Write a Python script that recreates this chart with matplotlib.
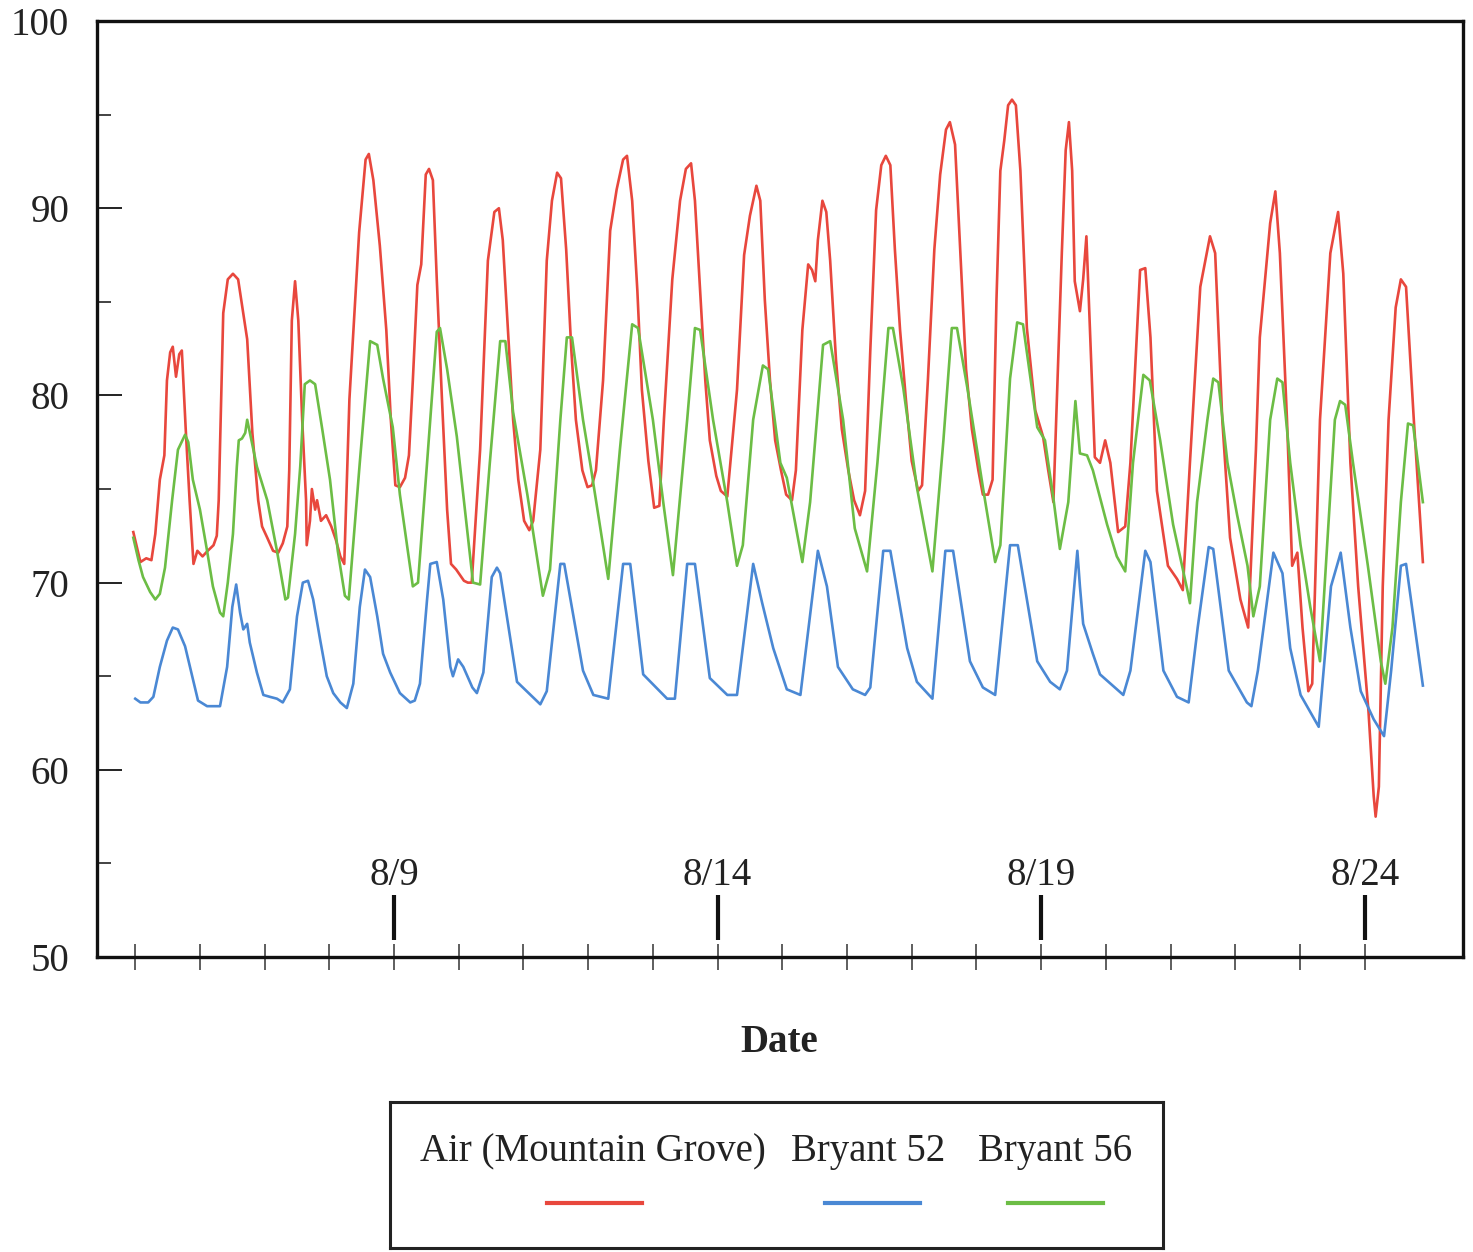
import matplotlib
matplotlib.use("Agg")
import matplotlib.pyplot as plt
import matplotlib.transforms as mtransforms
from matplotlib.lines import Line2D
from matplotlib.ticker import MultipleLocator

plt.rcParams['font.family'] = ['Liberation Serif', 'DejaVu Serif']

# Time axis: day of August (x.5 = noon), temperatures in deg F
air_day = [4.97, 5.08, 5.17, 5.25, 5.31, 5.38, 5.45, 5.49, 5.54, 5.58, 5.63, 5.68, 5.72, 5.78, 5.84,
           5.90, 5.96, 6.04, 6.12, 6.21, 6.26, 6.29, 6.36, 6.43, 6.51, 6.59, 6.73, 6.81, 6.90, 6.96,
           7.04, 7.13, 7.21, 7.28, 7.35, 7.38, 7.42, 7.47, 7.52, 7.58, 7.64, 7.65, 7.70, 7.73, 7.78,
           7.81, 7.87, 7.95, 8.03, 8.10, 8.17, 8.23, 8.31, 8.46, 8.56, 8.61, 8.68, 8.78, 8.88, 8.95,
           9.02, 9.09, 9.17, 9.23, 9.29, 9.36, 9.42, 9.49, 9.54, 9.60, 9.66, 9.74, 9.82, 9.88, 9.96,
           10.02, 10.08, 10.14, 10.20, 10.33, 10.45, 10.55, 10.62, 10.68, 10.76, 10.84, 10.92, 11.01,
           11.09, 11.15, 11.26, 11.36, 11.44, 11.52, 11.58, 11.66, 11.74, 11.81, 11.91, 11.99, 12.06,
           12.12, 12.23, 12.34, 12.44, 12.54, 12.60, 12.68, 12.76, 12.83, 12.93, 13.02, 13.10, 13.17,
           13.30, 13.42, 13.51, 13.59, 13.65, 13.73, 13.81, 13.88, 13.98, 14.05, 14.15, 14.30, 14.41,
           14.50, 14.60, 14.66, 14.73, 14.81, 14.89, 14.98, 15.06, 15.15, 15.21, 15.31, 15.40, 15.46,
           15.51, 15.55, 15.62, 15.68, 15.74, 15.83, 15.92, 16.02, 16.11, 16.20, 16.28, 16.36, 16.45,
           16.53, 16.60, 16.67, 16.74, 16.82, 16.91, 17.00, 17.10, 17.16, 17.25, 17.35, 17.44, 17.53,
           17.59, 17.67, 17.75, 17.84, 17.93, 18.03, 18.10, 18.18, 18.25, 18.31, 18.37, 18.43, 18.49,
           18.55, 18.61, 18.68, 18.78, 18.91, 19.03, 19.11, 19.19, 19.27, 19.32, 19.38, 19.43, 19.48,
           19.52, 19.60, 19.65, 19.70, 19.76, 19.83, 19.91, 19.99, 20.07, 20.19, 20.30, 20.38, 20.53,
           20.61, 20.69, 20.79, 20.96, 21.10, 21.19, 21.30, 21.46, 21.61, 21.69, 21.80, 21.92, 22.08,
           22.20, 22.32, 22.38, 22.54, 22.62, 22.69, 22.80, 22.88, 22.96, 23.04, 23.13, 23.19, 23.31,
           23.47, 23.59, 23.67, 23.78, 23.90, 24.06, 24.14, 24.17, 24.22, 24.28, 24.37, 24.48, 24.56,
           24.64, 24.76, 24.90]
air_temp = [72.7, 71.1, 71.3, 71.2, 72.6, 75.5, 76.8, 80.8, 82.3, 82.6, 81.0, 82.2, 82.4, 78.2, 74.4,
            71.0, 71.7, 71.4, 71.7, 72.0, 72.5, 74.4, 84.4, 86.2, 86.5, 86.2, 83.0, 78.0, 74.4, 73.0,
            72.4, 71.7, 71.6, 72.1, 73.0, 76.0, 84.0, 86.1, 84.0, 78.7, 74.4, 72.0, 73.3, 75.0, 73.9,
            74.4, 73.3, 73.6, 73.0, 72.3, 71.4, 71.0, 79.8, 88.7, 92.6, 92.9, 91.5, 88.0, 83.5, 78.7,
            75.2, 75.1, 75.6, 76.8, 80.8, 85.9, 87.0, 91.8, 92.1, 91.5, 86.2, 79.8, 73.9, 71.0, 70.7,
            70.4, 70.1, 70.0, 70.0, 77.1, 87.2, 89.8, 90.0, 88.3, 83.5, 78.7, 75.5, 73.3,
            72.8, 73.3, 77.1, 87.2, 90.4, 91.9, 91.6, 87.8, 82.4, 78.7, 76.0, 75.1, 75.2,
            76.0, 80.8, 88.8, 91.0, 92.6, 92.8, 90.4, 85.6, 80.3, 76.5, 74.0, 74.1, 78.7,
            86.2, 90.4, 92.1, 92.4, 90.4, 85.6, 80.8, 77.6, 75.7, 74.9, 74.6, 80.3, 87.5,
            89.6, 91.2, 90.4, 85.1, 80.8, 77.6, 76.0, 74.7, 74.4, 76.0, 83.5, 87.0, 86.7,
            86.1, 88.3, 90.4, 89.8, 87.2, 81.9, 78.2, 76.0, 74.4, 73.6, 74.9, 82.4, 89.9,
            92.3, 92.8, 92.3, 87.8, 83.5, 79.8, 76.5, 74.9, 75.2, 80.8, 87.8, 91.8, 94.2,
            94.6, 93.4, 87.8, 81.4, 78.2, 76.0, 74.7, 74.7, 75.5, 85.1, 92.0, 93.6, 95.5,
            95.8, 95.5, 92.0, 83.6, 79.2, 77.8, 76.0, 74.3, 82.4, 87.6, 93.1, 94.6, 92.0,
            86.1, 84.5, 86.2, 88.5, 83.1, 76.7, 76.4, 77.6, 76.4, 72.7, 73.0, 76.4, 86.7,
            86.8, 83.1, 74.9, 70.9, 70.2, 69.6, 76.4, 85.8, 88.5, 87.6, 78.7, 72.4, 69.1,
            67.6, 77.1, 83.1, 89.2, 90.9, 87.6, 78.7, 70.9, 71.6, 67.6, 64.2, 64.6, 78.7,
            87.6, 89.8, 86.5, 76.4, 69.8, 63.1, 58.6, 57.5, 59.1, 69.8, 78.7, 84.7, 86.2,
            85.8, 78.7, 71.1]

b52_day = [5.00, 5.08, 5.20, 5.28, 5.38, 5.49, 5.58, 5.66, 5.77, 5.88, 5.97, 6.11, 6.20, 6.31, 6.42,
           6.50, 6.56, 6.62, 6.67, 6.73, 6.77, 6.88, 6.98, 7.08, 7.19, 7.28, 7.39, 7.50, 7.59, 7.67,
           7.75, 7.86, 7.96, 8.06, 8.17, 8.27, 8.37, 8.47, 8.55, 8.63, 8.74, 8.83, 8.94, 9.09, 9.25,
           9.32, 9.40, 9.51, 9.56, 9.66, 9.76, 9.87, 9.91, 9.99, 10.07, 10.21, 10.28, 10.38, 10.51,
           10.59, 10.64, 10.90, 11.26, 11.36, 11.57, 11.63, 11.92, 12.08, 12.31, 12.54, 12.65, 12.85,
           13.22, 13.34, 13.53, 13.65, 13.88, 14.15, 14.30, 14.55, 14.69, 14.86, 15.07, 15.28, 15.55,
           15.69, 15.86, 16.09, 16.28, 16.36, 16.56, 16.67, 16.93, 17.08, 17.32, 17.52, 17.64, 17.90,
           18.10, 18.29, 18.52, 18.64, 18.94, 19.14, 19.29, 19.40, 19.56, 19.60, 19.65, 19.80, 19.91,
           20.27, 20.38, 20.61, 20.69, 20.89, 21.10, 21.28, 21.42, 21.59, 21.66, 21.90, 22.18, 22.25,
           22.35, 22.59, 22.73, 22.85, 23.01, 23.29, 23.48, 23.63, 23.78, 23.94, 24.14, 24.30, 24.41,
           24.56, 24.64, 24.76, 24.90]
b52_temp = [63.8, 63.6, 63.6, 63.9, 65.5, 66.9, 67.6, 67.5, 66.6, 65.0, 63.7, 63.4, 63.4, 63.4, 65.5,
            68.7, 69.9, 68.4, 67.5, 67.8, 66.8, 65.2, 64.0, 63.9, 63.8, 63.6, 64.3, 68.2, 70.0, 70.1,
            69.1, 66.9, 65.0, 64.1, 63.6, 63.3, 64.6, 68.7, 70.7, 70.3, 68.2, 66.2, 65.2, 64.1, 63.6,
            63.7, 64.6, 69.1, 71.0, 71.1, 69.1, 65.5, 65.0, 65.9, 65.5, 64.4, 64.1, 65.2, 70.3,
            70.8, 70.5, 64.7, 63.5, 64.2, 71.0, 71.0, 65.3, 64.0, 63.8, 71.0, 71.0, 65.1,
            63.8, 63.8, 71.0, 71.0, 64.9, 64.0, 64.0, 71.0, 68.9, 66.5, 64.3, 64.0, 71.7,
            69.8, 65.5, 64.3, 64.0, 64.4, 71.7, 71.7, 66.5, 64.7, 63.8, 71.7, 71.7, 65.8,
            64.4, 64.0, 72.0, 72.0, 65.8, 64.7, 64.3, 65.3, 71.7, 69.8, 67.8, 66.2, 65.1,
            64.0, 65.3, 71.7, 71.1, 65.3, 63.9, 63.6, 67.6, 71.9, 71.8, 65.3, 63.6, 63.4,
            65.3, 71.6, 70.5, 66.5, 64.0, 62.3, 69.8, 71.6, 67.6, 64.2, 62.7, 61.8, 65.3,
            70.9, 71.0, 68.0, 64.5]

b56_day = [4.97, 5.05, 5.12, 5.23, 5.31, 5.38, 5.46, 5.57, 5.66, 5.77, 5.82, 5.89, 6.00, 6.11, 6.20,
           6.31, 6.36, 6.43, 6.51, 6.57, 6.60, 6.65, 6.70, 6.73, 6.76, 6.88, 7.04, 7.19, 7.32, 7.36,
           7.47, 7.55, 7.62, 7.70, 7.78, 7.89, 8.01, 8.13, 8.24, 8.30, 8.47, 8.63, 8.74, 8.83, 8.98,
           9.09, 9.29, 9.37, 9.51, 9.66, 9.71, 9.82, 9.97, 10.22, 10.33, 10.48, 10.64, 10.72, 10.84,
           11.06, 11.30, 11.41, 11.57, 11.67, 11.75, 11.92, 12.03, 12.31, 12.49, 12.68, 12.77, 13.00,
           13.16, 13.31, 13.53, 13.65, 13.73, 13.93, 14.15, 14.30, 14.39, 14.55, 14.70, 14.78, 14.97,
           15.07, 15.31, 15.43, 15.63, 15.74, 15.94, 16.12, 16.31, 16.47, 16.64, 16.71, 16.87, 17.08,
           17.32, 17.49, 17.62, 17.70, 17.86, 18.10, 18.29, 18.37, 18.52, 18.63, 18.72, 18.94, 19.06,
           19.19, 19.29, 19.42, 19.53, 19.60, 19.71, 19.80, 20.02, 20.17, 20.30, 20.42, 20.58, 20.68,
           20.84, 21.04, 21.26, 21.30, 21.41, 21.57, 21.66, 21.74, 21.88, 22.03, 22.19, 22.28, 22.38,
           22.54, 22.65, 22.73, 22.85, 23.01, 23.16, 23.31, 23.42, 23.54, 23.62, 23.70, 23.82, 24.05,
           24.25, 24.32, 24.43, 24.56, 24.67, 24.75, 24.90]
b56_temp = [72.4, 71.2, 70.3, 69.5, 69.1, 69.4, 70.8, 74.4, 77.1, 77.9, 77.5, 75.5, 73.9, 71.7, 69.8,
            68.4, 68.2, 70.0, 72.6, 76.2, 77.6, 77.7, 78.0, 78.7, 78.2, 76.2, 74.4, 71.7, 69.1, 69.2,
            72.6, 76.2, 80.6, 80.8, 80.6, 78.2, 75.5, 71.7, 69.3, 69.1, 76.4, 82.9, 82.7, 80.9, 78.3,
            74.7, 69.8, 70.0, 76.4, 83.4, 83.6, 81.4, 77.8, 70.0, 69.9, 76.4, 82.9, 82.9, 79.1,
            74.7, 69.3, 70.7, 78.7, 83.1, 83.1, 78.7, 76.4, 70.2, 77.1, 83.8, 83.6, 78.7,
            74.3, 70.4, 78.7, 83.6, 83.5, 78.7, 74.3, 70.9, 72.0, 78.7, 81.6, 81.4, 76.4,
            75.6, 71.1, 74.3, 82.7, 82.9, 78.7, 72.9, 70.6, 76.4, 83.6, 83.6, 80.4, 75.1,
            70.6, 77.6, 83.6, 83.6, 80.4, 75.1, 71.1, 72.0, 80.9, 83.9, 83.8, 78.3, 77.6,
            74.5, 71.8, 74.3, 79.7, 76.9, 76.8, 76.0, 73.1, 71.4, 70.6, 76.4, 81.1, 80.8,
            77.6, 73.1, 69.6, 68.9, 74.3, 78.7, 80.9, 80.7, 76.4, 73.6, 70.9, 68.2, 69.8,
            78.7, 80.9, 80.7, 76.4, 72.0, 68.7, 65.8, 72.0, 78.7, 79.7, 79.5, 76.4, 70.9,
            65.8, 64.6, 67.6, 74.3, 78.5, 78.4, 74.3]

series_names = ["Air (Mountain Grove)", "Bryant 52", "Bryant 56"]
series_colors = ["#e8473d", "#4a88d4", "#6cbd45"]

day_ticks = list(range(5, 25))
label_days = [9, 14, 19, 24]
label_text = ["8/9", "8/14", "8/19", "8/24"]
y_major = [50, 60, 70, 80, 90, 100]

fig = plt.figure(figsize=(14.73, 12.52), dpi=100)
ax = fig.add_axes([0.0659, 0.2356, 0.9273, 0.7476])

ax.plot(air_day, air_temp, color=series_colors[0], lw=1.9)
ax.plot(b52_day, b52_temp, color=series_colors[1], lw=1.9)
ax.plot(b56_day, b56_temp, color=series_colors[2], lw=1.9)

ax.set_xlim(4.41, 25.52)
ax.set_ylim(50, 100)

for sp in ax.spines.values():
    sp.set_linewidth(2.4)
    sp.set_color("#111111")

# y axis: labelled every 10, short ticks every 5, all pointing inward
ax.set_yticks(y_major)
ax.yaxis.set_minor_locator(MultipleLocator(5))
ax.tick_params(axis="y", which="major", direction="in", length=18, width=1.4,
               labelsize=28, pad=20, colors="#222222", right=False)
ax.tick_params(axis="y", which="minor", direction="in", length=10, width=1.2,
               colors="#222222", right=False)

# x axis: a small crossing tick each day, no labels on the axis itself
ax.set_xticks(day_ticks)
ax.set_xticklabels([])
ax.tick_params(axis="x", which="major", direction="inout", length=19, width=1.1,
               colors="#333333", top=False)

# date markers drawn inside the plot above the axis
trans = mtransforms.blended_transform_factory(ax.transData, ax.transAxes)
for d, lab in zip(label_days, label_text):
    ax.plot([d, d], [0.018, 0.066], color="#111111", lw=3, transform=trans,
            solid_capstyle="butt", clip_on=False)
    ax.text(d, 0.077, lab, transform=trans, ha="center", va="baseline",
            fontsize=28, color="#222222")

fig.text(0.529, 0.167, "Date", ha="center", va="center", fontsize=28,
         fontweight="bold", color="#222222")

# legend box: names on top, line samples underneath
lax = fig.add_axes([0.2648, 0.0032, 0.5248, 0.1166])
lax.set_xlim(0, 1)
lax.set_ylim(0, 1)
lax.set_xticks([])
lax.set_yticks([])
for sp in lax.spines.values():
    sp.set_linewidth(2.2)
    sp.set_color("#222222")
text_x = [0.263, 0.618, 0.860]
line_x = [(0.203, 0.326), (0.563, 0.686), (0.800, 0.922)]
for name, col, tx, (x0, x1) in zip(series_names, series_colors, text_x, line_x):
    lax.text(tx, 0.66, name, ha="center", va="center", fontsize=28, color="#222222")
    lax.add_line(Line2D([x0, x1], [0.31, 0.31], color=col, lw=3))

fig.savefig("out.png", dpi=100)
